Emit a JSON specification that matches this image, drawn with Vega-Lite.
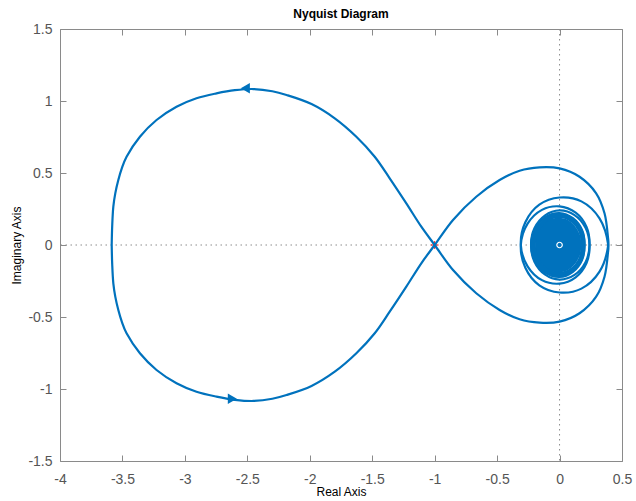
{
  "$schema": "https://vega.github.io/schema/vega-lite/v6.json",
  "width": 562,
  "height": 432,
  "autosize": "none",
  "padding": {"left": 60, "top": 29, "right": 14, "bottom": 40},
  "title": {"text": "Nyquist Diagram", "font": "Liberation Sans", "fontSize": 12, "fontWeight": "bold", "color": "#000000", "offset": 1, "anchor": "middle"},
  "config": {
    "view": {"stroke": null},
    "axis": {
      "grid": false,
      "domainColor": "#8a8a8a",
      "domainWidth": 1,
      "tickColor": "#8a8a8a",
      "tickWidth": 1,
      "tickSize": -6,
      "labelColor": "#555555",
      "labelFont": "Liberation Sans",
      "labelFontSize": 14,
      "titleFont": "Liberation Sans",
      "titleFontSize": 12,
      "titleFontWeight": "normal",
      "titleColor": "#000000"
    }
  },
  "datasets": {
    "curve": [
      {"b": "p", "i": 0, "x": -3.586, "y": 0},
      {"b": "p", "i": 0.5, "x": -3.582, "y": -0.133},
      {"b": "p", "i": 1, "x": -3.573, "y": -0.266},
      {"b": "p", "i": 1.5, "x": -3.557, "y": -0.36},
      {"b": "p", "i": 2, "x": -3.533, "y": -0.451},
      {"b": "p", "i": 2.5, "x": -3.504, "y": -0.535},
      {"b": "p", "i": 3, "x": -3.467, "y": -0.613},
      {"b": "p", "i": 4, "x": -3.36, "y": -0.752},
      {"b": "p", "i": 5, "x": -3.227, "y": -0.868},
      {"b": "p", "i": 6, "x": -3.067, "y": -0.96},
      {"b": "p", "i": 7, "x": -2.907, "y": -1.019},
      {"b": "p", "i": 8, "x": -2.747, "y": -1.053},
      {"b": "p", "i": 9, "x": -2.6, "y": -1.075},
      {"b": "p", "i": 10, "x": -2.45, "y": -1.083},
      {"b": "p", "i": 11, "x": -2.3, "y": -1.068},
      {"b": "p", "i": 12, "x": -2.186, "y": -1.042},
      {"b": "p", "i": 13, "x": -1.986, "y": -0.979},
      {"b": "p", "i": 14, "x": -1.8, "y": -0.88},
      {"b": "p", "i": 15, "x": -1.627, "y": -0.752},
      {"b": "p", "i": 16, "x": -1.48, "y": -0.613},
      {"b": "p", "i": 17, "x": -1.36, "y": -0.463},
      {"b": "p", "i": 18, "x": -1.227, "y": -0.289},
      {"b": "p", "i": 19, "x": -1.107, "y": -0.127},
      {"b": "p", "i": 20, "x": -1, "y": 0},
      {"b": "p", "i": 21, "x": -0.853, "y": 0.174},
      {"b": "p", "i": 22, "x": -0.667, "y": 0.335},
      {"b": "p", "i": 23, "x": -0.48, "y": 0.451},
      {"b": "p", "i": 24, "x": -0.32, "y": 0.516},
      {"b": "p", "i": 25, "x": -0.16, "y": 0.539},
      {"b": "p", "i": 26, "x": 0, "y": 0.532},
      {"b": "p", "i": 27, "x": 0.16, "y": 0.474},
      {"b": "p", "i": 28, "x": 0.293, "y": 0.359},
      {"b": "p", "i": 29, "x": 0.36, "y": 0.22},
      {"b": "p", "i": 30, "x": 0.387, "y": 0.058},
      {"b": "p", "i": 31, "x": 0.39, "y": 0},
      {"b": "p", "i": 32, "x": 0.32, "y": -0.185},
      {"b": "p", "i": 33, "x": 0.175, "y": -0.303},
      {"b": "p", "i": 34, "x": 0, "y": -0.33},
      {"b": "p", "i": 35, "x": -0.162, "y": -0.28},
      {"b": "p", "i": 36, "x": -0.274, "y": -0.158},
      {"b": "p", "i": 37, "x": -0.31, "y": 0},
      {"b": "p", "i": 38, "x": -0.256, "y": 0.148},
      {"b": "p", "i": 39, "x": -0.141, "y": 0.244},
      {"b": "p", "i": 40, "x": 0, "y": 0.268},
      {"b": "p", "i": 41, "x": 0.129, "y": 0.224},
      {"b": "p", "i": 42, "x": 0.216, "y": 0.125},
      {"b": "p", "i": 43, "x": 0.24, "y": 0},
      {"b": "p", "i": 44, "x": 0.208, "y": -0.12},
      {"b": "p", "i": 45, "x": 0.12, "y": -0.208},
      {"b": "p", "i": 46, "x": 0, "y": -0.24},
      {"b": "p", "i": 47, "x": -0.118, "y": -0.204},
      {"b": "p", "i": 48, "x": -0.201, "y": -0.116},
      {"b": "p", "i": 49, "x": -0.228, "y": 0},
      {"b": "p", "i": 50, "x": -0.196, "y": 0.113},
      {"b": "p", "i": 51, "x": -0.112, "y": 0.194},
      {"b": "p", "i": 52, "x": 0, "y": 0.222},
      {"b": "p", "i": 53, "x": 0.107, "y": 0.186},
      {"b": "p", "i": 54, "x": 0.18, "y": 0.104},
      {"b": "p", "i": 55, "x": 0.2, "y": 0},
      {"b": "p", "i": 56, "x": 0.177, "y": -0.102},
      {"b": "p", "i": 57, "x": 0.104, "y": -0.18},
      {"b": "p", "i": 58, "x": 0, "y": -0.212},
      {"b": "p", "i": 59, "x": -0.106, "y": -0.184},
      {"b": "p", "i": 60, "x": -0.184, "y": -0.106},
      {"b": "p", "i": 61, "x": -0.212, "y": 0},
      {"b": "p", "i": 62, "x": -0.182, "y": 0.105},
      {"b": "p", "i": 63, "x": -0.104, "y": 0.18},
      {"b": "p", "i": 64, "x": 0, "y": 0.205},
      {"b": "p", "i": 65, "x": 0.1, "y": 0.173},
      {"b": "p", "i": 66, "x": 0.168, "y": 0.097},
      {"b": "p", "i": 67, "x": 0.188, "y": 0},
      {"b": "p", "i": 68, "x": 0.166, "y": -0.096},
      {"b": "p", "i": 69, "x": 0.098, "y": -0.17},
      {"b": "p", "i": 70, "x": 0, "y": -0.2},
      {"b": "p", "i": 71, "x": -0.1, "y": -0.173},
      {"b": "p", "i": 72, "x": -0.173, "y": -0.1},
      {"b": "p", "i": 73, "x": -0.2, "y": 0},
      {"b": "p", "i": 74, "x": -0.172, "y": 0.099},
      {"b": "p", "i": 75, "x": -0.098, "y": 0.17},
      {"b": "p", "i": 76, "x": 0, "y": 0.195},
      {"b": "p", "i": 77, "x": 0.095, "y": 0.165},
      {"b": "p", "i": 78, "x": 0.16, "y": 0.093},
      {"b": "p", "i": 79, "x": 0.18, "y": 0},
      {"b": "n", "i": 0, "x": -3.586, "y": 0},
      {"b": "n", "i": 0.5, "x": -3.582, "y": 0.133},
      {"b": "n", "i": 1, "x": -3.573, "y": 0.266},
      {"b": "n", "i": 1.5, "x": -3.557, "y": 0.36},
      {"b": "n", "i": 2, "x": -3.533, "y": 0.451},
      {"b": "n", "i": 2.5, "x": -3.504, "y": 0.535},
      {"b": "n", "i": 3, "x": -3.467, "y": 0.613},
      {"b": "n", "i": 4, "x": -3.36, "y": 0.752},
      {"b": "n", "i": 5, "x": -3.227, "y": 0.868},
      {"b": "n", "i": 6, "x": -3.067, "y": 0.96},
      {"b": "n", "i": 7, "x": -2.907, "y": 1.019},
      {"b": "n", "i": 8, "x": -2.747, "y": 1.053},
      {"b": "n", "i": 9, "x": -2.6, "y": 1.075},
      {"b": "n", "i": 10, "x": -2.45, "y": 1.083},
      {"b": "n", "i": 11, "x": -2.3, "y": 1.068},
      {"b": "n", "i": 12, "x": -2.186, "y": 1.042},
      {"b": "n", "i": 13, "x": -1.986, "y": 0.979},
      {"b": "n", "i": 14, "x": -1.8, "y": 0.88},
      {"b": "n", "i": 15, "x": -1.627, "y": 0.752},
      {"b": "n", "i": 16, "x": -1.48, "y": 0.613},
      {"b": "n", "i": 17, "x": -1.36, "y": 0.463},
      {"b": "n", "i": 18, "x": -1.227, "y": 0.289},
      {"b": "n", "i": 19, "x": -1.107, "y": 0.127},
      {"b": "n", "i": 20, "x": -1, "y": 0},
      {"b": "n", "i": 21, "x": -0.853, "y": -0.174},
      {"b": "n", "i": 22, "x": -0.667, "y": -0.335},
      {"b": "n", "i": 23, "x": -0.48, "y": -0.451},
      {"b": "n", "i": 24, "x": -0.32, "y": -0.516},
      {"b": "n", "i": 25, "x": -0.16, "y": -0.539},
      {"b": "n", "i": 26, "x": 0, "y": -0.532},
      {"b": "n", "i": 27, "x": 0.16, "y": -0.474},
      {"b": "n", "i": 28, "x": 0.293, "y": -0.359},
      {"b": "n", "i": 29, "x": 0.36, "y": -0.22},
      {"b": "n", "i": 30, "x": 0.387, "y": -0.058},
      {"b": "n", "i": 31, "x": 0.39, "y": 0},
      {"b": "n", "i": 32, "x": 0.32, "y": 0.185},
      {"b": "n", "i": 33, "x": 0.175, "y": 0.303},
      {"b": "n", "i": 34, "x": 0, "y": 0.33},
      {"b": "n", "i": 35, "x": -0.162, "y": 0.28},
      {"b": "n", "i": 36, "x": -0.274, "y": 0.158},
      {"b": "n", "i": 37, "x": -0.31, "y": 0},
      {"b": "n", "i": 38, "x": -0.256, "y": -0.148},
      {"b": "n", "i": 39, "x": -0.141, "y": -0.244},
      {"b": "n", "i": 40, "x": 0, "y": -0.268},
      {"b": "n", "i": 41, "x": 0.129, "y": -0.224},
      {"b": "n", "i": 42, "x": 0.216, "y": -0.125},
      {"b": "n", "i": 43, "x": 0.24, "y": 0},
      {"b": "n", "i": 44, "x": 0.208, "y": 0.12},
      {"b": "n", "i": 45, "x": 0.12, "y": 0.208},
      {"b": "n", "i": 46, "x": 0, "y": 0.24},
      {"b": "n", "i": 47, "x": -0.118, "y": 0.204},
      {"b": "n", "i": 48, "x": -0.201, "y": 0.116},
      {"b": "n", "i": 49, "x": -0.228, "y": 0},
      {"b": "n", "i": 50, "x": -0.196, "y": -0.113},
      {"b": "n", "i": 51, "x": -0.112, "y": -0.194},
      {"b": "n", "i": 52, "x": 0, "y": -0.222},
      {"b": "n", "i": 53, "x": 0.107, "y": -0.186},
      {"b": "n", "i": 54, "x": 0.18, "y": -0.104},
      {"b": "n", "i": 55, "x": 0.2, "y": 0},
      {"b": "n", "i": 56, "x": 0.177, "y": 0.102},
      {"b": "n", "i": 57, "x": 0.104, "y": 0.18},
      {"b": "n", "i": 58, "x": 0, "y": 0.212},
      {"b": "n", "i": 59, "x": -0.106, "y": 0.184},
      {"b": "n", "i": 60, "x": -0.184, "y": 0.106},
      {"b": "n", "i": 61, "x": -0.212, "y": 0},
      {"b": "n", "i": 62, "x": -0.182, "y": -0.105},
      {"b": "n", "i": 63, "x": -0.104, "y": -0.18},
      {"b": "n", "i": 64, "x": 0, "y": -0.205},
      {"b": "n", "i": 65, "x": 0.1, "y": -0.173},
      {"b": "n", "i": 66, "x": 0.168, "y": -0.097},
      {"b": "n", "i": 67, "x": 0.188, "y": 0},
      {"b": "n", "i": 68, "x": 0.166, "y": 0.096},
      {"b": "n", "i": 69, "x": 0.098, "y": 0.17},
      {"b": "n", "i": 70, "x": 0, "y": 0.2},
      {"b": "n", "i": 71, "x": -0.1, "y": 0.173},
      {"b": "n", "i": 72, "x": -0.173, "y": 0.1},
      {"b": "n", "i": 73, "x": -0.2, "y": 0},
      {"b": "n", "i": 74, "x": -0.172, "y": -0.099},
      {"b": "n", "i": 75, "x": -0.098, "y": -0.17},
      {"b": "n", "i": 76, "x": 0, "y": -0.195},
      {"b": "n", "i": 77, "x": 0.095, "y": -0.165},
      {"b": "n", "i": 78, "x": 0.16, "y": -0.093},
      {"b": "n", "i": 79, "x": 0.18, "y": 0}
    ],
    "blob": [
      {"x": -0.195, "yt": 0, "yb": 0},
      {"x": -0.189, "yt": 0.049, "yb": -0.049},
      {"x": -0.17, "yt": 0.095, "yb": -0.095},
      {"x": -0.141, "yt": 0.134, "yb": -0.134},
      {"x": -0.1025, "yt": 0.165, "yb": -0.165},
      {"x": -0.058, "yt": 0.184, "yb": -0.184},
      {"x": -0.01, "yt": 0.19, "yb": -0.19},
      {"x": 0.038, "yt": 0.184, "yb": -0.184},
      {"x": 0.0825, "yt": 0.165, "yb": -0.165},
      {"x": 0.121, "yt": 0.134, "yb": -0.134},
      {"x": 0.15, "yt": 0.095, "yb": -0.095},
      {"x": 0.169, "yt": 0.049, "yb": -0.049},
      {"x": 0.175, "yt": 0, "yb": 0}
    ],
    "arrows": [
      {"x": -2.516, "y": 1.088, "d": "l"},
      {"x": -2.62, "y": -1.067, "d": "r"}
    ]
  },
  "layer": [
    {
      "data": {"values": [{"v": 0}]},
      "mark": {"type": "rule", "color": "#8c8c8c", "strokeWidth": 1, "strokeDash": [1.5, 3.5]},
      "encoding": {
        "x": {"field": "v", "type": "quantitative", "scale": {"domain": [-4, 0.5], "nice": false, "zero": false}, "axis": null}
      }
    },
    {
      "data": {"values": [{"v": 0}]},
      "mark": {"type": "rule", "color": "#8c8c8c", "strokeWidth": 1, "strokeDash": [1.5, 3.5]},
      "encoding": {
        "y": {"field": "v", "type": "quantitative", "scale": {"domain": [-1.5, 1.5], "nice": false, "zero": false}, "axis": null}
      }
    },
    {
      "data": {"values": [{"x": -1, "y": 0}]},
      "mark": {"type": "point", "shape": "M-1,0L1,0M0,-1L0,1", "filled": false, "stroke": "#ff0000", "strokeWidth": 1, "size": 60, "opacity": 1},
      "encoding": {
        "x": {"field": "x", "type": "quantitative", "axis": null},
        "y": {"field": "y", "type": "quantitative", "axis": null}
      }
    },
    {
      "data": {"name": "blob"},
      "mark": {"type": "area", "color": "#0072BD", "opacity": 1, "interpolate": "monotone"},
      "encoding": {
        "x": {"field": "x", "type": "quantitative", "axis": null},
        "y": {"field": "yt", "type": "quantitative", "axis": null},
        "y2": {"field": "yb"}
      }
    },
    {
      "data": {"name": "curve"},
      "mark": {"type": "line", "color": "#0072BD", "strokeWidth": 2.2, "strokeJoin": "round", "interpolate": "catmull-rom"},
      "encoding": {
        "x": {"field": "x", "type": "quantitative", "axis": {"orient": "bottom", "values": [-4, -3.5, -3, -2.5, -2, -1.5, -1, -0.5, 0, 0.5], "labelExpr": "datum.value < 0 ? '-' + format(-datum.value, '~g') : format(datum.value, '~g')", "labelPadding": 17, "title": "Real Axis", "titlePadding": 0, "labelFlush": false, "labelOverlap": false}},
        "y": {"field": "y", "type": "quantitative", "axis": {"orient": "left", "values": [-1.5, -1, -0.5, 0, 0.5, 1, 1.5], "labelExpr": "datum.value < 0 ? '-' + format(-datum.value, '~g') : format(datum.value, '~g')", "labelPadding": 14, "title": "Imaginary Axis", "titlePadding": 4, "labelFlush": false, "labelOverlap": false}},
        "detail": {"field": "b"},
        "order": {"field": "i", "type": "quantitative"}
      }
    },
    {
      "data": {"name": "arrows"},
      "mark": {"type": "point", "filled": true, "color": "#0072BD", "size": 110, "opacity": 1},
      "encoding": {
        "x": {"field": "x", "type": "quantitative", "axis": {"orient": "top", "values": [-4, -3.5, -3, -2.5, -2, -1.5, -1, -0.5, 0, 0.5], "labels": false, "title": null}},
        "y": {"field": "y", "type": "quantitative", "axis": {"orient": "right", "values": [-1.5, -1, -0.5, 0, 0.5, 1, 1.5], "labels": false, "title": null}},
        "shape": {"field": "d", "type": "nominal", "scale": {"domain": ["l", "r"], "range": ["triangle-left", "triangle-right"]}, "legend": null}
      }
    },
    {
      "data": {"values": [{"x": 0, "y": 0}]},
      "mark": {"type": "point", "shape": "circle", "filled": false, "stroke": "#ffffff", "strokeWidth": 1.2, "size": 30, "opacity": 1},
      "encoding": {
        "x": {"field": "x", "type": "quantitative", "axis": null},
        "y": {"field": "y", "type": "quantitative", "axis": null}
      }
    }
  ],
  "resolve": {"axis": {"x": "independent", "y": "independent"}}
}
